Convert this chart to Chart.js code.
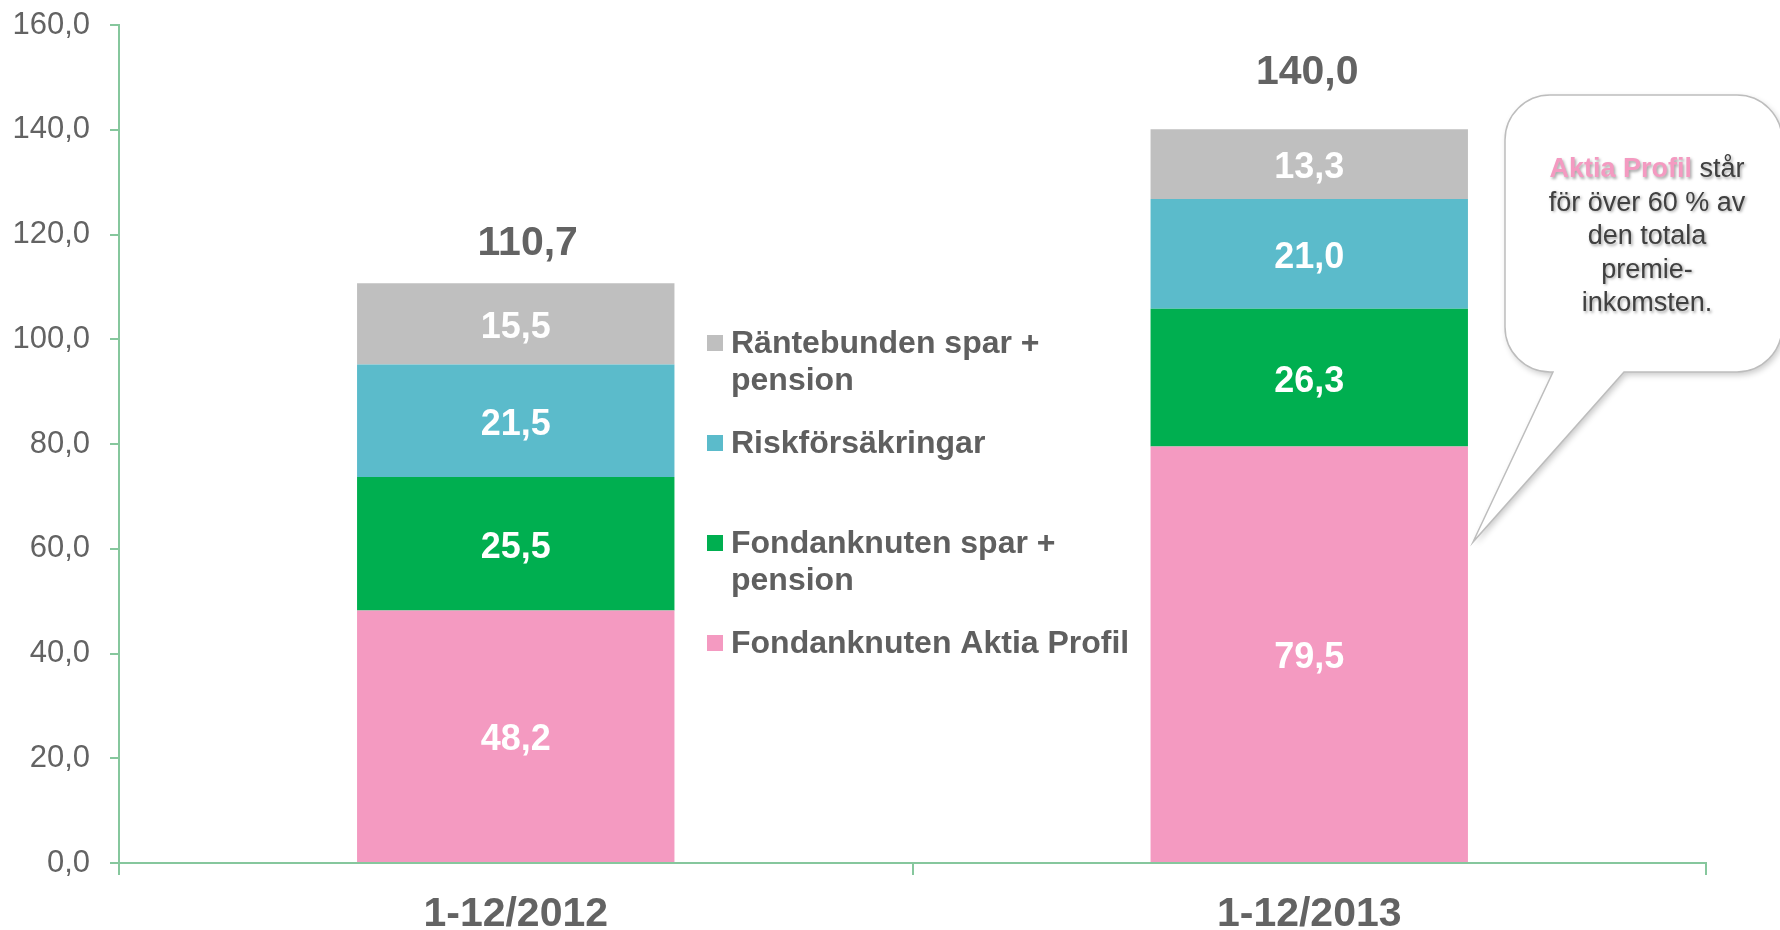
<!DOCTYPE html>
<html>
<head>
<meta charset="utf-8">
<script src="https://cdn.jsdelivr.net/npm/chart.js@4.4.1/dist/chart.umd.min.js"></script>
<style>
  html, body { margin:0; padding:0; background:#fff; }
  #wrap { width:1780px; height:930px; position:relative; }
</style>
</head>
<body>
<div id="wrap"><canvas id="premie"></canvas></div>
<script>
const categories = ["1-12/2012", "1-12/2013"];
const aktiaProfil = [48.2, 79.5];
const fondSpar = [25.5, 26.3];
const riskForsakringar = [21.5, 21.0];
const rantebunden = [15.5, 13.3];
const totals = [110.7, 140.0];

const seriesNames = [
  ["Fondanknuten Aktia Profil"],
  ["Fondanknuten spar +", "pension"],
  ["Riskförsäkringar"],
  ["Räntebunden spar +", "pension"]
];
const calloutLines = [
  ["Aktia Profil", " står"],
  ["för över 60 % av"],
  ["den totala"],
  ["premie-"],
  ["inkomsten."]
];

const FONT = '"Liberation Sans", Arial, sans-serif';
const axisColor = "#86c79d";
const textGray = "#636363";

function fmt(v){
  return v.toFixed(1).replace(".", ",");
}

/* labels inside bars + totals on top */
const barLabels = {
  id: "barLabels",
  afterDatasetsDraw(chart){
    const ctx = chart.ctx;
    ctx.save();
    ctx.textAlign = "center";
    ctx.textBaseline = "middle";
    ctx.font = "bold 36px " + FONT;
    ctx.fillStyle = "#ffffff";
    chart.data.datasets.forEach((ds, i)=>{
      chart.getDatasetMeta(i).data.forEach((bar, j)=>{
        ctx.fillText(fmt(ds.data[j]), bar.x, (bar.y + bar.base)/2 + 4);
      });
    });
    const top = chart.getDatasetMeta(chart.data.datasets.length - 1);
    const gap = [28, 45], shift = [12, -2];
    ctx.textBaseline = "alphabetic";
    ctx.font = "bold 41px " + FONT;
    ctx.fillStyle = textGray;
    top.data.forEach((bar, j)=>{
      ctx.fillText(fmt(totals[j]), bar.x + shift[j], bar.y - gap[j]);
    });
    ctx.restore();
  }
};

/* legend between the bars */
const sideLegend = {
  id: "sideLegend",
  afterDraw(chart){
    const ctx = chart.ctx;
    ctx.save();
    ctx.font = "bold 32px " + FONT;
    ctx.textBaseline = "alphabetic";
    ctx.textAlign = "left";
    const ds = chart.data.datasets;
    let y = 353;
    for(let i = ds.length - 1; i >= 0; i--){
      ctx.fillStyle = ds[i].backgroundColor;
      ctx.fillRect(707, y - 18, 16, 16);
      ctx.fillStyle = "#5f5f5f";
      seriesNames[i].forEach((t, k)=> ctx.fillText(t, 731, y + k*37));
      y += 100;
    }
    ctx.restore();
  }
};

/* speech bubble */
const callout = {
  id: "callout",
  afterDraw(chart){
    const ctx = chart.ctx;
    const L = 1505, T = 95, R = 1782, B = 372, r = 45;
    ctx.save();
    ctx.beginPath();
    ctx.moveTo(L + r, T);
    ctx.lineTo(R - r, T);
    ctx.arcTo(R, T, R, T + r, r);
    ctx.lineTo(R, B - r);
    ctx.arcTo(R, B, R - r, B, r);
    ctx.lineTo(1624, B);
    ctx.lineTo(1473, 542);
    ctx.lineTo(1553, B);
    ctx.lineTo(L + r, B);
    ctx.arcTo(L, B, L, B - r, r);
    ctx.lineTo(L, T + r);
    ctx.arcTo(L, T, L + r, T, r);
    ctx.closePath();
    ctx.shadowColor = "rgba(0,0,0,0.22)";
    ctx.shadowBlur = 6;
    ctx.shadowOffsetX = 2;
    ctx.shadowOffsetY = 3;
    ctx.fillStyle = "#ffffff";
    ctx.fill();
    ctx.shadowColor = "transparent";
    ctx.strokeStyle = "#bdbdbd";
    ctx.lineWidth = 1.5;
    ctx.stroke();

    ctx.shadowColor = "rgba(0,0,0,0.35)";
    ctx.shadowBlur = 3;
    ctx.shadowOffsetX = 1.5;
    ctx.shadowOffsetY = 1.5;
    ctx.textBaseline = "alphabetic";
    ctx.textAlign = "left";
    const cx = 1647;
    calloutLines.forEach((parts, k)=>{
      const y = 177 + k*33.5;
      const fonts = parts.map((p, m)=> (k === 0 && m === 0 ? "bold " : "") + "27px " + FONT);
      let w = 0;
      parts.forEach((p, m)=>{ ctx.font = fonts[m]; w += ctx.measureText(p).width; });
      let x = cx - w/2;
      parts.forEach((p, m)=>{
        ctx.font = fonts[m];
        ctx.fillStyle = (k === 0 && m === 0) ? "#f49ac1" : "#404040";
        ctx.fillText(p, x, y);
        x += ctx.measureText(p).width;
      });
    });
    ctx.restore();
  }
};

new Chart(document.getElementById("premie"), {
  type: "bar",
  data: {
    labels: categories,
    datasets: [
      { label: seriesNames[0].join(" "), data: aktiaProfil, backgroundColor: "#f49ac1" },
      { label: seriesNames[1].join(" "), data: fondSpar, backgroundColor: "#00af50" },
      { label: seriesNames[2].join(" "), data: riskForsakringar, backgroundColor: "#5bbbcb" },
      { label: seriesNames[3].join(" "), data: rantebunden, backgroundColor: "#bfbfbf" }
    ]
  },
  options: {
    responsive: true,
    maintainAspectRatio: false,
    animation: false,
    layout: { autoPadding: false, padding: { top: 25, right: 74, left: 0, bottom: 0 } },
    datasets: { bar: { barPercentage: 1, categoryPercentage: 0.4 } },
    plugins: {
      legend: { display: false },
      tooltip: { enabled: false }
    },
    scales: {
      x: {
        stacked: true,
        afterFit(s){ s.height = 67; s.paddingLeft = 0; s.paddingRight = 0; },
        grid: { offset: true, drawOnChartArea: false, tickLength: 12, color: axisColor, lineWidth: 2 },
        border: { color: axisColor, width: 2 },
        ticks: { padding: 15, color: textGray, font: { family: FONT, size: 41, weight: "bold" } }
      },
      y: {
        stacked: true,
        min: 0,
        max: 160,
        afterFit(s){ s.width = 119; s.paddingTop = 0; s.paddingBottom = 0; },
        grid: { drawOnChartArea: false, tickLength: 9, color: axisColor, lineWidth: 2 },
        border: { color: axisColor, width: 2 },
        ticks: {
          stepSize: 20,
          padding: 20,
          color: textGray,
          font: { family: FONT, size: 31 },
          callback: (v)=> fmt(v)
        }
      }
    }
  },
  plugins: [barLabels, sideLegend, callout]
});
</script>
</body>
</html>
